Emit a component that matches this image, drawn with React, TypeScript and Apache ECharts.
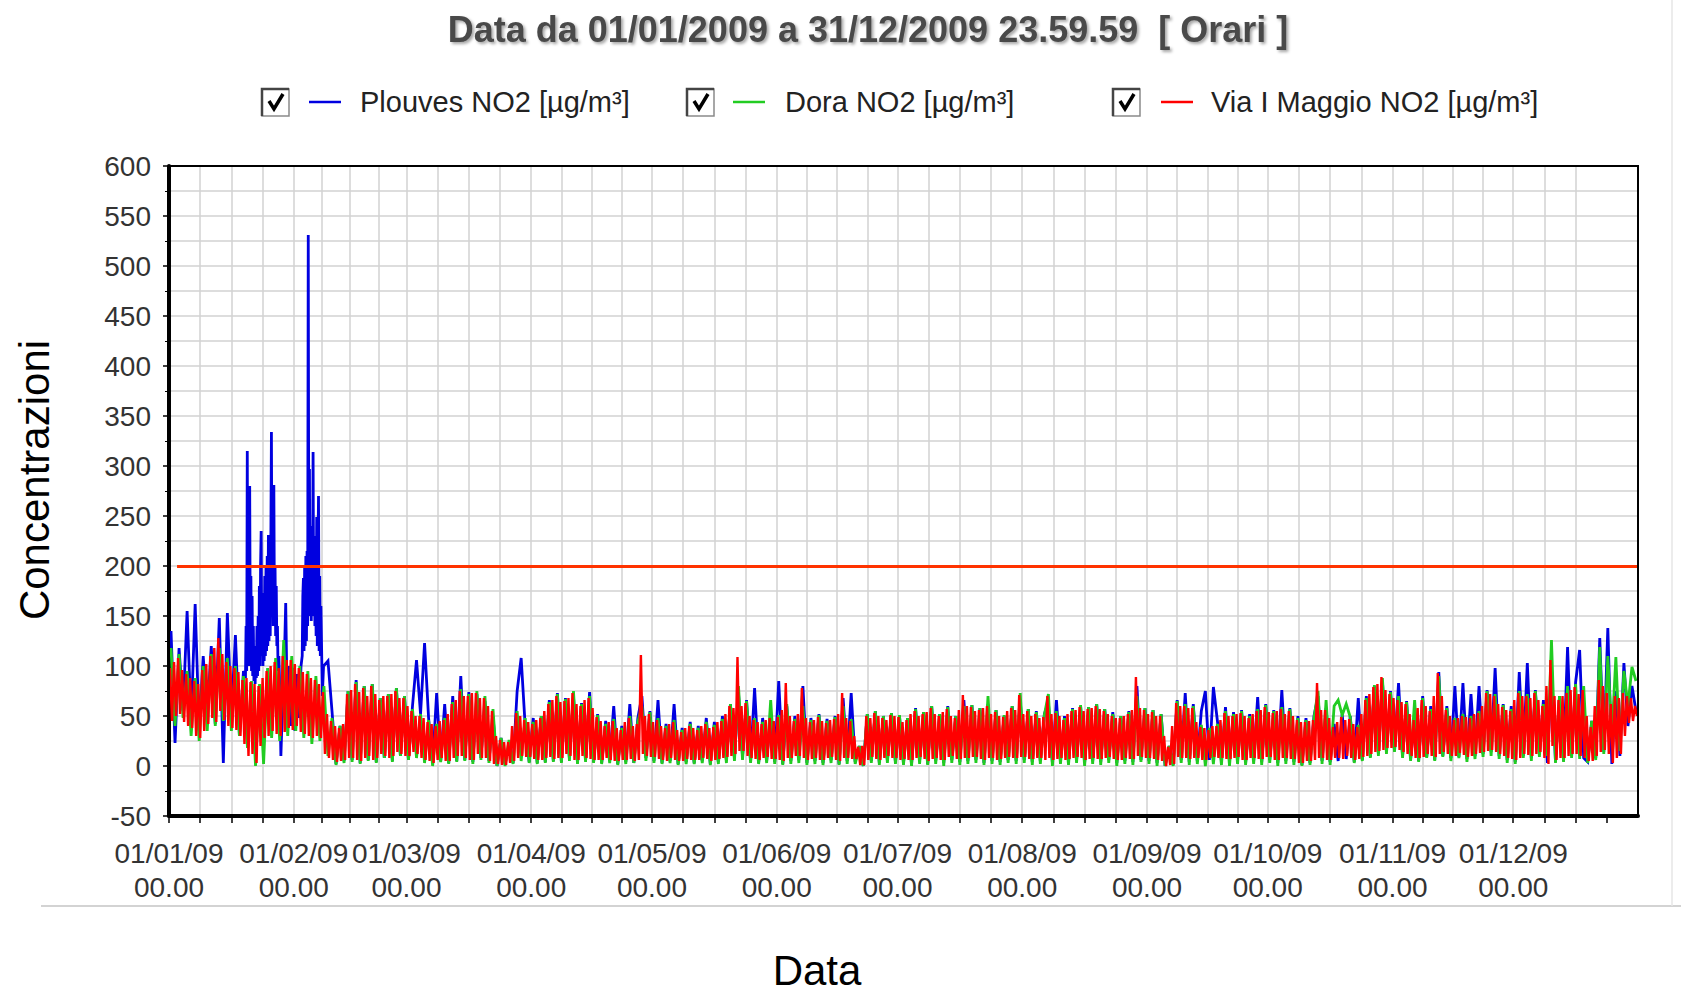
import React, { useEffect, useRef } from 'react';
import * as echarts from 'echarts';

const TITLE = 'Data da 01/01/2009 a 31/12/2009 23.59.59  [ Orari ]';
const Y_NAME = 'Concentrazioni';
const X_NAME = 'Data';
const SERIES_NAMES = ['Plouves NO2 [µg/m³]', 'Dora NO2 [µg/m³]', 'Via I Maggio NO2 [µg/m³]'];
const SERIES_COLORS = ['#0000e0', '#22cc22', '#ff0000'];
const SERIES_WIDTHS = [2.8, 2.8, 2.4];
const MONTH_STARTS = [0, 31, 59, 90, 120, 151, 181, 212, 243, 273, 304, 334];
const MONTH_LABELS = ['01/01/09', '01/02/09', '01/03/09', '01/04/09', '01/05/09', '01/06/09', '01/07/09', '01/08/09', '01/09/09', '01/10/09', '01/11/09', '01/12/09'];
const TIME_LABEL = '00.00';
const YEAR_DAYS = 365;
const Y_MIN = -50;
const Y_MAX = 600;
const Y_STEP = 50;
const THRESHOLD = 200;
const THRESHOLD_FROM_DAY = 2;

// Plouves NO2: one alternating extreme per day (index = day of year)
const plouves = [
  135, 23, 118, 55, 155, 45, 162, 35, 110, 50,
  120, 42, 148, 3, 153, 50, 131, 30, 95, 88,
  280, 85, 235, 100, 231, 334, 281, 90, 10, 163,
  100, 40, 98, 48, 531, 297, 314, 270, 122, 105,
  55, 2, 40, 5, 75, 6, 86, 3, 80, 6,
  82, 4, 68, 8, 72, 5, 78, 10, 70, 6,
  60, 106, 52, 123, 48, 2, 73, 5, 62, 3,
  70, 5, 90, 6, 74, 4, 72, 8, 65, 5,
  50, 0, 28, 2, 22, 3, 75, 108, 40, 4,
  48, 3, 50, 4, 66, 5, 73, 4, 68, 7,
  70, 3, 63, 6, 74, 4, 52, 3, 45, 5,
  60, 2, 40, 4, 62, 3, 48, 70, 8, 55,
  5, 66, 3, 42, 5, 62, 2, 38, 4, 44,
  3, 40, 5, 48, 2, 44, 4, 50, 6, 62,
  8, 73, 10, 66, 5, 78, 3, 48, 5, 52,
  4, 85, 2, 60, 5, 50, 6, 80, 3, 48,
  5, 52, 3, 47, 6, 50, 2, 68, 5, 73,
  4, 20, 0, 52, 5, 55, 3, 50, 6, 53,
  4, 50, 3, 48, 2, 58, 5, 54, 2, 60,
  5, 52, 3, 60, 6, 50, 4, 66, 5, 61,
  6, 58, 3, 62, 5, 56, 4, 50, 6, 60,
  5, 66, 6, 57, 4, 55, 5, 52, 64, 3,
  66, 5, 50, 4, 58, 6, 60, 3, 59, 5,
  62, 4, 57, 6, 54, 3, 50, 5, 55, 4,
  80, 6, 58, 5, 56, 3, 52, 0, 20, 1,
  66, 6, 73, 4, 62, 5, 55, 75, 6, 79,
  45, 5, 59, 4, 54, 6, 56, 3, 52, 5,
  69, 4, 62, 6, 56, 3, 76, 5, 58, 4,
  50, 1, 48, 3, 50, 70, 5, 58, 4, 42,
  5, 52, 7, 50, 4, 68, 6, 70, 9, 80,
  12, 85, 14, 75, 15, 83, 10, 65, 7, 50,
  5, 70, 9, 60, 6, 94, 10, 60, 8, 80,
  9, 83, 7, 72, 10, 80, 12, 76, 14, 98,
  10, 62, 6, 60, 4, 94, 10, 103, 8, 76,
  12, 66, 3, 100, 4, 70, 5, 119, 10, 84,
  116, 8, 4, 45, 8, 128, 14, 138, 2, 75,
  10, 103, 40, 80, 55,
];

// Plouves NO2 episode of late January / early February, read at finer steps: [day, value]
const PLOUVES_EPISODE_FROM = 19;
const PLOUVES_EPISODE_TO = 38.6;
const plouvesEpisode = [
  [19.0, 88], [19.15, 140], [19.3, 95], [19.45, 315], [19.6, 110], [19.75, 200], [19.9, 100], [20.05, 280],
  [20.2, 120], [20.35, 190], [20.5, 95], [20.65, 170], [20.8, 90], [20.95, 140], [21.1, 85], [21.25, 120],
  [21.4, 82], [21.55, 110], [21.7, 88], [21.85, 140], [22.0, 90], [22.15, 150], [22.3, 95], [22.45, 180],
  [22.6, 100], [22.75, 200], [22.9, 235], [23.05, 110], [23.2, 173], [23.35, 100], [23.5, 165], [23.65, 105],
  [23.8, 190], [23.95, 110], [24.1, 200], [24.25, 115], [24.4, 210], [24.55, 120], [24.7, 231], [24.85, 125],
  [25.0, 215], [25.15, 130], [25.3, 220], [25.45, 334], [25.6, 150], [25.75, 225], [25.9, 140], [26.05, 281],
  [26.2, 150], [26.35, 200], [26.5, 130], [26.65, 180], [26.8, 120], [26.95, 140], [27.1, 95], [27.3, 110],
  [27.5, 80], [27.8, 10], [28.2, 60], [28.6, 95], [29.0, 163], [29.4, 50], [29.8, 100], [30.3, 40],
  [30.8, 98], [31.3, 35], [31.8, 92], [32.3, 48], [32.8, 100], [33.1, 110], [33.25, 170], [33.4, 188],
  [33.55, 115], [33.7, 200], [33.85, 120], [34.0, 210], [34.15, 125], [34.3, 215], [34.45, 140], [34.6, 531],
  [34.75, 160], [34.9, 297], [35.05, 150], [35.2, 230], [35.35, 145], [35.5, 240], [35.65, 160], [35.8, 314],
  [35.95, 150], [36.1, 230], [36.25, 140], [36.4, 220], [36.55, 130], [36.7, 249], [36.85, 120], [37.0, 210],
  [37.15, 270], [37.3, 115], [37.45, 190], [37.6, 110], [37.75, 160], [37.9, 122], [38.1, 70], [38.4, 100],
];

// Dora NO2: one alternating extreme per day
const dora = [
  118, 40, 112, 48, 95, 30, 88, 25, 100, 35,
  112, 40, 118, 45, 108, 35, 100, 30, 90, 18,
  85, 0, 82, 2, 98, 28, 108, 25, 126, 30,
  110, 35, 100, 28, 95, 22, 90, 25, 80, 10,
  48, 1, 40, 3, 75, 4, 84, 2, 80, 5,
  82, 3, 68, 8, 72, 4, 78, 10, 70, 6,
  57, 8, 52, 3, 46, 0, 42, 4, 48, 2,
  64, 4, 77, 5, 72, 2, 75, 6, 70, 3,
  57, 0, 28, 0, 26, 2, 55, 5, 48, 3,
  44, 2, 50, 3, 64, 4, 72, 3, 67, 5,
  75, 2, 62, 4, 70, 3, 51, 2, 42, 3,
  47, 1, 38, 2, 50, 3, 44, 60, 5, 54,
  3, 48, 2, 40, 3, 46, 1, 36, 2, 42,
  2, 38, 3, 44, 1, 41, 2, 47, 3, 62,
  5, 80, 6, 65, 3, 48, 2, 44, 3, 66,
  2, 51, 1, 62, 2, 47, 3, 60, 1, 46,
  2, 51, 1, 45, 3, 49, 1, 60, 2, 47,
  2, 20, 0, 52, 3, 55, 1, 50, 3, 53,
  2, 51, 1, 48, 0, 57, 2, 54, 1, 60,
  2, 52, 0, 59, 3, 50, 1, 60, 2, 61,
  3, 58, 1, 70, 2, 56, 1, 51, 3, 60,
  2, 73, 3, 57, 1, 54, 2, 51, 72, 0,
  55, 2, 48, 1, 57, 3, 61, 0, 59, 2,
  62, 1, 57, 3, 52, 0, 50, 2, 54, 1,
  70, 4, 58, 2, 56, 0, 52, 0, 20, 0,
  65, 3, 62, 1, 60, 2, 41, 0, 38, 2,
  42, 1, 55, 0, 52, 2, 55, 1, 50, 2,
  57, 1, 61, 3, 55, 0, 59, 2, 57, 1,
  48, 0, 46, 1, 48, 75, 2, 66, 1, 60,
  66, 51, 62, 49, 3, 41, 5, 68, 8, 81,
  10, 88, 12, 74, 14, 70, 8, 64, 5, 66,
  4, 68, 8, 57, 5, 90, 9, 58, 5, 48,
  8, 52, 4, 50, 7, 55, 9, 75, 10, 72,
  7, 61, 3, 57, 2, 75, 8, 72, 5, 75,
  9, 62, 10, 126, 3, 70, 4, 80, 8, 82,
  7, 80, 3, 45, 6, 119, 12, 110, 30, 109,
  15, 95, 60, 99, 85,
];

// Via I Maggio NO2: daily highs and daily lows (index = day of year)
const viaIMaggioHigh = [
  98, 104, 108, 96, 92, 88, 85, 82, 96, 102,
  110, 118, 128, 112, 104, 100, 98, 94, 86, 88,
  84, 82, 80, 88, 95, 100, 104, 98, 110, 106,
  106, 102, 98, 94, 92, 88, 86, 82, 74, 52,
  45, 40, 38, 42, 72, 76, 82, 74, 78, 70,
  80, 72, 66, 70, 70, 72, 75, 68, 68, 60,
  55, 50, 50, 48, 44, 42, 40, 45, 46, 52,
  62, 66, 75, 70, 70, 73, 73, 68, 68, 60,
  55, 30, 26, 24, 24, 40, 53, 50, 46, 44,
  42, 46, 48, 55, 62, 66, 70, 64, 65, 68,
  73, 62, 60, 66, 68, 58, 49, 45, 40, 44,
  45, 38, 36, 44, 48, 40, 42, 111, 50, 52,
  44, 46, 40, 38, 42, 44, 36, 34, 38, 40,
  38, 36, 40, 42, 38, 39, 44, 45, 52, 60,
  58, 109, 60, 63, 50, 46, 44, 42, 46, 48,
  45, 49, 56, 83, 50, 45, 52, 78, 48, 44,
  46, 49, 45, 43, 46, 47, 52, 73, 48, 45,
  30, 19, 20, 50, 48, 53, 50, 48, 46, 51,
  50, 49, 44, 46, 52, 55, 50, 52, 54, 58,
  52, 50, 54, 57, 50, 48, 56, 71, 60, 59,
  55, 56, 58, 60, 52, 54, 50, 49, 55, 58,
  56, 71, 52, 55, 50, 52, 48, 49, 70, 52,
  53, 50, 46, 52, 55, 56, 59, 55, 57, 58,
  60, 57, 55, 52, 50, 48, 48, 50, 52, 56,
  89, 58, 56, 52, 54, 50, 50, 30, 19, 40,
  63, 60, 60, 58, 58, 44, 39, 38, 36, 40,
  40, 46, 53, 50, 50, 52, 53, 50, 48, 52,
  55, 56, 59, 54, 53, 55, 57, 52, 55, 50,
  46, 44, 44, 45, 46, 83, 56, 56, 48, 39,
  44, 49, 46, 47, 42, 39, 52, 66, 72, 79,
  82, 89, 76, 72, 68, 66, 64, 62, 52, 46,
  58, 66, 60, 55, 70, 93, 70, 56, 50, 46,
  48, 50, 49, 48, 52, 53, 60, 73, 72, 70,
  62, 59, 56, 55, 66, 73, 70, 70, 68, 73,
  66, 60, 80, 106, 70, 66, 70, 73, 76, 79,
  72, 76, 50, 39, 60, 86, 80, 73, 62, 70,
  68, 73, 70, 68, 60,
];

const viaIMaggioLow = [
  45, 50, 52, 44, 40, 38, 30, 28, 35, 42,
  48, 44, 55, 46, 40, 38, 36, 30, 22, 10,
  12, 3, 20, 28, 30, 35, 32, 30, 34, 38,
  36, 40, 34, 32, 30, 28, 30, 28, 12, 8,
  6, 4, 5, 6, 8, 8, 6, 5, 8, 10,
  6, 8, 12, 10, 8, 10, 14, 12, 10, 10,
  14, 12, 8, 6, 5, 3, 6, 8, 5, 5,
  8, 10, 10, 8, 6, 6, 12, 8, 8, 5,
  2, 2, 1, 1, 3, 5, 8, 10, 9, 9,
  7, 6, 6, 8, 9, 7, 8, 8, 12, 10,
  6, 6, 10, 8, 7, 6, 6, 6, 8, 6,
  5, 5, 6, 6, 7, 5, 6, 12, 10, 9,
  9, 7, 6, 5, 8, 6, 5, 5, 7, 6,
  6, 6, 8, 7, 5, 6, 7, 8, 9, 10,
  12, 15, 15, 10, 8, 7, 6, 8, 9, 7,
  7, 6, 5, 8, 8, 10, 10, 8, 6, 7,
  8, 6, 6, 8, 9, 6, 5, 8, 8, 7,
  7, 1, 1, 6, 9, 7, 6, 8, 10, 8,
  8, 6, 7, 6, 6, 8, 9, 7, 5, 7,
  8, 6, 6, 9, 10, 7, 7, 8, 8, 9,
  9, 7, 6, 8, 8, 6, 7, 8, 9, 8,
  8, 9, 9, 7, 7, 8, 8, 6, 8, 6,
  7, 8, 6, 7, 8, 9, 8, 6, 7, 8,
  7, 7, 8, 9, 7, 6, 6, 8, 7, 7,
  10, 9, 8, 8, 7, 6, 5, 0, 1, 2,
  9, 8, 8, 7, 8, 8, 6, 6, 8, 9,
  8, 8, 7, 7, 8, 9, 6, 6, 8, 8,
  7, 7, 9, 9, 6, 6, 8, 8, 7, 7,
  3, 3, 5, 5, 6, 8, 8, 6, 6, 8,
  8, 7, 10, 8, 6, 7, 9, 10, 12, 14,
  15, 16, 18, 18, 19, 16, 14, 12, 10, 8,
  8, 9, 12, 10, 9, 12, 14, 12, 10, 10,
  13, 11, 9, 10, 12, 13, 14, 15, 16, 14,
  12, 10, 8, 7, 6, 8, 12, 11, 10, 12,
  14, 8, 2, 20, 6, 8, 8, 10, 12, 12,
  10, 8, 5, 5, 10, 14, 16, 12, 3, 8,
  12, 30, 43, 45, 50,
];

const FONT = '"Liberation Sans", Arial, Helvetica, sans-serif';

function daily(arr: number[]): number[][] {
  return arr.map((v, i) => [i + 0.5, v]);
}

function highLow(high: number[], low: number[]): number[][] {
  const out: number[][] = [];
  for (let i = 0; i < high.length; i++) {
    out.push([i + 0.25, high[i]]);
    out.push([i + 0.75, low[i]]);
  }
  return out;
}

function buildPlouves(): number[][] {
  const base = daily(plouves).filter((p) => p[0] < PLOUVES_EPISODE_FROM || p[0] > PLOUVES_EPISODE_TO);
  return base.concat(plouvesEpisode).sort((a, b) => a[0] - b[0]);
}

function quarterTicks(): number[] {
  const out: number[] = [];
  MONTH_STARTS.forEach((s, i) => {
    const e = i + 1 < MONTH_STARTS.length ? MONTH_STARTS[i + 1] : YEAR_DAYS;
    const len = e - s;
    for (let k = 0; k < 4; k++) out.push(s + (len * k) / 4);
  });
  return out;
}

const GRID = { left: 169, top: 166, width: 1469, height: 650 };

function legendItem(x: number, color: string, name: string, lineX: number, textX: number) {
  const y = 102;
  return [
    { type: 'rect', shape: { x, y: y - 13, width: 27, height: 27 }, style: { fill: '#fff', stroke: '#8a8a8a', lineWidth: 1.5 } },
    { type: 'polyline', shape: { points: [[x, y + 14], [x, y - 13], [x + 27, y - 13]] }, style: { stroke: '#444', lineWidth: 2.5, fill: 'none' } },
    { type: 'polyline', shape: { points: [[x + 7, y - 1], [x + 12, y + 7], [x + 21, y - 8]] }, style: { stroke: '#000', lineWidth: 3.5, fill: 'none' } },
    { type: 'line', shape: { x1: lineX, y1: y, x2: lineX + 32, y2: y }, style: { stroke: color, lineWidth: 2.5 } },
    { type: 'text', x: textX, y, style: { text: name, fontSize: 29, fontFamily: FONT, fill: '#222', textAlign: 'left', textVerticalAlign: 'middle' } },
  ];
}

export default function App() {
  const ref = useRef<HTMLDivElement>(null);
  useEffect(() => {
    if (!ref.current) return;
    const chart = echarts.init(ref.current, undefined, { renderer: 'svg' });
    const seriesData = [buildPlouves(), daily(dora), highLow(viaIMaggioHigh, viaIMaggioLow)];
    const gridLineStyle = { color: '#d2d2d2', width: 1.5 };
    const option: any = {
      animation: false,
      backgroundColor: '#fff',
      title: {
        text: TITLE,
        left: 863,
        top: 6,
        textAlign: 'center',
        textStyle: {
          fontFamily: FONT,
          fontSize: 36,
          fontWeight: 'bold',
          color: '#4a4a4a',
          textShadowColor: 'rgba(0,0,0,0.35)',
          textShadowBlur: 3,
          textShadowOffsetX: 2,
          textShadowOffsetY: 2,
        },
      },
      grid: { ...GRID, containLabel: false },
      xAxis: {
        type: 'value',
        min: 0,
        max: YEAR_DAYS,
        axisLine: { show: true, onZero: false, lineStyle: { color: '#000', width: 4 } },
        axisTick: { show: true, customValues: quarterTicks(), length: 7, lineStyle: { color: '#000', width: 1.5 } },
        axisLabel: {
          customValues: MONTH_STARTS,
          formatter: (v: number) => {
            const i = MONTH_STARTS.indexOf(Math.round(v));
            return i >= 0 ? MONTH_LABELS[i] + '\n' + TIME_LABEL : '';
          },
          fontFamily: FONT,
          fontSize: 28,
          color: '#333',
          lineHeight: 34,
          margin: 20,
        },
        splitLine: { show: true, showMinLine: false, showMaxLine: false, lineStyle: gridLineStyle },
      },
      yAxis: {
        type: 'value',
        min: Y_MIN,
        max: Y_MAX,
        interval: Y_STEP,
        axisLine: { show: true, onZero: false, lineStyle: { color: '#000', width: 4 } },
        axisTick: { show: true, length: 6, lineStyle: { color: '#000', width: 1.5 } },
        minorTick: { show: true, splitNumber: 2, length: 4, lineStyle: { color: '#000', width: 1 } },
        axisLabel: { fontFamily: FONT, fontSize: 28, color: '#333', margin: 18 },
        splitLine: { show: true, showMaxLine: false, lineStyle: gridLineStyle },
        minorSplitLine: { show: true, lineStyle: gridLineStyle },
      },
      series: SERIES_NAMES.map((name, i) => {
        const s: any = {
          name,
          type: 'line',
          data: seriesData[i],
          showSymbol: false,
          symbol: 'none',
          lineStyle: { color: SERIES_COLORS[i], width: SERIES_WIDTHS[i], join: 'miter', miterLimit: 4 },
          itemStyle: { color: SERIES_COLORS[i] },
          z: 2 + i,
          silent: true,
        };
        if (i === SERIES_NAMES.length - 1) {
          s.markLine = {
            silent: true,
            symbol: ['none', 'none'],
            label: { show: false },
            lineStyle: { color: '#ff3300', width: 3, type: 'solid' },
            data: [[{ coord: [THRESHOLD_FROM_DAY, THRESHOLD] }, { coord: [YEAR_DAYS, THRESHOLD] }]],
          };
        }
        return s;
      }),
      graphic: [
        { type: 'rect', z: 50, silent: true, shape: { x: GRID.left, y: GRID.top, width: GRID.width, height: GRID.height }, style: { fill: 'none', stroke: '#000', lineWidth: 2 } },
        ...legendItem(262, SERIES_COLORS[0], SERIES_NAMES[0], 309, 360),
        ...legendItem(687, SERIES_COLORS[1], SERIES_NAMES[1], 733, 785),
        ...legendItem(1113, SERIES_COLORS[2], SERIES_NAMES[2], 1161, 1211),
        { type: 'text', x: 34, y: 480, rotation: Math.PI / 2, style: { text: Y_NAME, fontSize: 42, fontFamily: FONT, fill: '#000', textAlign: 'center', textVerticalAlign: 'middle' } },
        { type: 'text', x: 817, y: 970, style: { text: X_NAME, fontSize: 42, lineHeight: 38, fontFamily: FONT, fill: '#000', textAlign: 'center', textVerticalAlign: 'middle' } },
        { type: 'line', silent: true, shape: { x1: 41, y1: 906, x2: 1681, y2: 906 }, style: { stroke: '#c4c4c4', lineWidth: 1.5 } },
        { type: 'line', silent: true, shape: { x1: 1672, y1: 0, x2: 1672, y2: 906 }, style: { stroke: '#e6e6e6', lineWidth: 1.5 } },
      ],
    };
    chart.setOption(option);
    return () => chart.dispose();
  }, []);
  return <div ref={ref} style={{ position: 'absolute', left: 0, top: 0, width: 1681, height: 992 }} />;
}
